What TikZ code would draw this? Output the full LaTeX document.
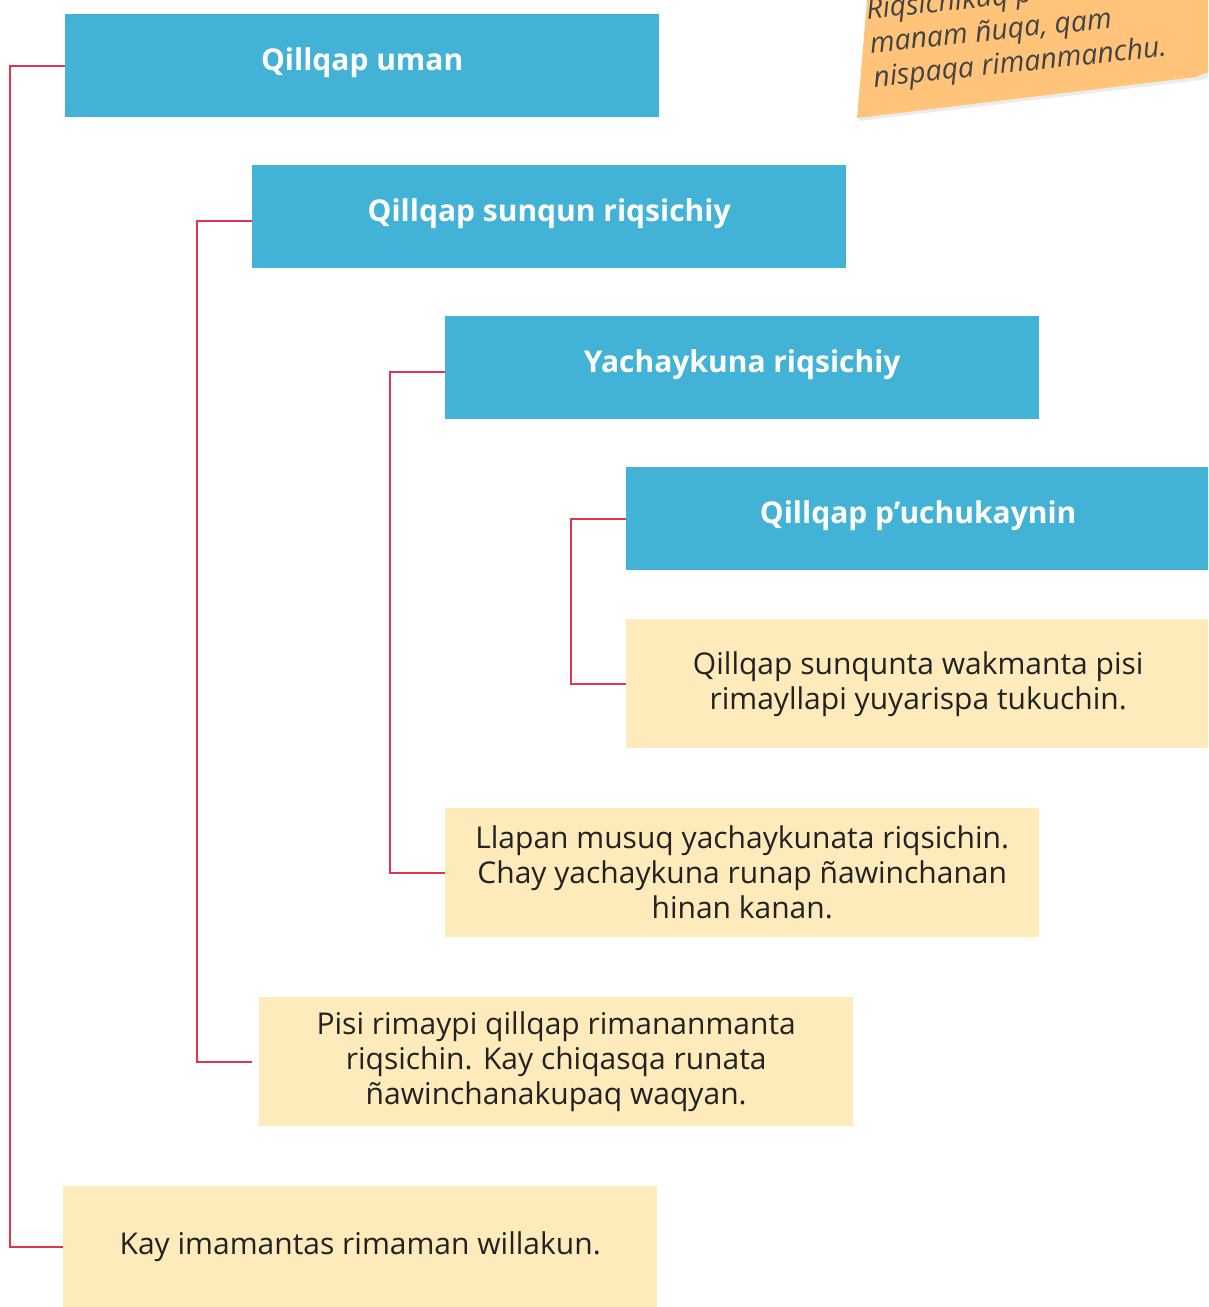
\documentclass[tikz,border=0pt]{standalone}
\usepackage{fontspec}
\setmainfont{Open Sans}
\definecolor{hblue}{HTML}{42B2D6}
\definecolor{hyel}{HTML}{FDEBBB}
\definecolor{hred}{HTML}{E0344F}
\definecolor{hnote}{HTML}{FFC47A}
\definecolor{htext}{HTML}{222222}
\tikzset{
  bluebox/.style={fill=hblue, text=white, font=\fontsize{30}{34}\selectfont\bfseries, minimum width=594pt, minimum height=103pt, anchor=north west, inner sep=0pt, text height=20pt, text depth=11.4pt},
  yelbox/.style={fill=hyel, text=htext, font=\fontsize{30}{35}\selectfont, minimum width=594pt, minimum height=129pt, anchor=north west, inner sep=0pt, align=center},
  conn/.style={draw=hred, line width=2.3pt},
}
\begin{document}
\begin{tikzpicture}[x=1pt,y=-1pt]
\useasboundingbox (0,0) rectangle (1208,1307);
\clip (0,0) rectangle (1208,1307);
\fill[white] (0,0) rectangle (1208,1307);
% sticky note
\fill[black!8] (859,121) -- (1200,80) -- (1212,77) -- (1212,-10) -- (871,-10) -- cycle;
\fill[hnote] (857,118) -- (1196,77) to[bend left=8] (1210,72) -- (1210,-10) -- (868,-10) -- cycle;
\node[rotate=6, anchor=south west, align=left, text=htext!85, font=\fontsize{28.5}{34}\selectfont\itshape, inner sep=0pt] (note) at (875,94) {Riqsichikuq p\\manam ñuqa, qam\\nispaqa rimanmanchu.};
% boxes
\node[bluebox] (b1) at (65,14) {Qillqap uman};
\node[bluebox] (b2) at (252,165) {Qillqap sunqun riqsichiy};
\node[bluebox] (b3) at (445,316) {Yachaykuna riqsichiy};
\node[bluebox, minimum width=584pt] (b4) at (626,467) {Qillqap p’uchukaynin};
\node[yelbox, minimum width=584pt] (y4) at (626,619) {Qillqap sunqunta wakmanta pisi\\rimayllapi yuyarispa tukuchin.};
\node[yelbox] (y3) at (445,808) {Llapan musuq yachaykunata riqsichin.\\Chay yachaykuna runap ñawinchanan\\hinan kanan.};
\node[yelbox] (y2) at (259,997) {Pisi rimaypi qillqap rimananmanta\\riqsichin. Kay chiqasqa runata\\ñawinchanakupaq waqyan.};
\node[yelbox, minimum height=121pt] (y1) at (63,1186) {Kay imamantas rimaman willakun.};
% connectors
\draw[conn] (b1.west) -- ++(-55,0) |- (y1.west);
\draw[conn] ([yshift=-4pt]b2.west) -- ++(-55,0) |- ([xshift=-7pt]y2.west);
\draw[conn] ([yshift=-4pt]b3.west) -- ++(-55,0) |- (y3.west);
\draw[conn] (b4.west) -- ++(-55,0) |- (y4.west);
\end{tikzpicture}
\end{document}
